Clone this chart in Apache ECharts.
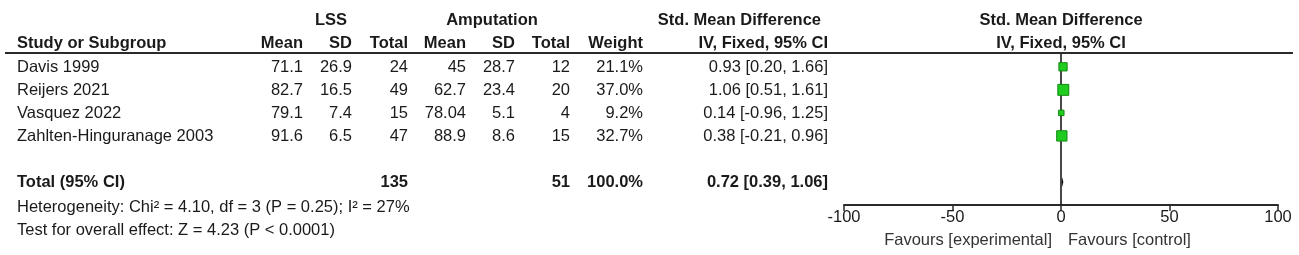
<!DOCTYPE html>
<html><head><meta charset="utf-8">
<script src="https://cdn.jsdelivr.net/npm/echarts@6/dist/echarts.min.js"></script>
<style>html,body{margin:0;padding:0;background:#fff}#c{width:1299px;height:255px}</style>
</head><body><div id="c"></div>
<script>
const studies = ['Davis 1999', 'Reijers 2021', 'Vasquez 2022', 'Zahlten-Hinguranage 2003'];
const lssMean = [71.1, 82.7, 79.1, 91.6];
const lssSD = [26.9, 16.5, 7.4, 6.5];
const lssN = [24, 49, 15, 47];
const ampMean = [45, 62.7, 78.04, 88.9];
const ampSD = [28.7, 23.4, 5.1, 8.6];
const ampN = [12, 20, 4, 15];
const weight = [21.1, 37.0, 9.2, 32.7];
const smd = [0.93, 1.06, 0.14, 0.38];
const ciLow = [0.20, 0.51, -0.96, -0.21];
const ciHigh = [1.66, 1.61, 1.25, 0.96];
const totalLss = 135, totalAmp = 51, totalWeight = 100.0;
const totalSmd = 0.72, totalLow = 0.39, totalHigh = 1.06;
const heterogeneity = 'Heterogeneity: Chi\u00b2 = 4.10, df = 3 (P = 0.25); I\u00b2 = 27%';
const overall = 'Test for overall effect: Z = 4.23 (P < 0.0001)';
const xTicks = [-100, -50, 0, 50, 100];
const nullEffect = 0;
const totalRow = 5;

const FONT = "'Liberation Sans', Arial, sans-serif";
const FS = 16.5;
const COL = '#1a1a1a';
const Y_MIN = -0.6, Y_MAX = 6;

const chart = echarts.init(document.getElementById('c'), null, {renderer: 'canvas'});
const rows = studies.map((s, i) => i);

chart.setOption({
  animation: false,
  backgroundColor: '#fff',
  grid: {left: 844, width: 434, top: 53, height: 152},
  xAxis: {
    type: 'value', min: xTicks[0], max: xTicks[xTicks.length - 1], interval: 50,
    splitLine: {show: false},
    axisLine: {show: true, onZero: false, lineStyle: {color: '#2a2a2a', width: 2}},
    axisTick: {show: true, length: 6, lineStyle: {color: '#2a2a2a', width: 1.5}},
    axisLabel: {color: COL, fontFamily: FONT, fontSize: FS, margin: 4}
  },
  yAxis: {type: 'value', inverse: true, min: Y_MIN, max: Y_MAX, show: false},
  series: [
    {
      type: 'line',
      data: [[nullEffect, Y_MIN], [nullEffect, Y_MAX]],
      symbol: 'none',
      lineStyle: {color: '#1a1a1a', width: 1.6},
      z: 1, silent: true
    },
    {
      type: 'custom',
      renderItem: function (params, api) {
        const a = api.coord([api.value(0), api.value(2)]);
        const b = api.coord([api.value(1), api.value(2)]);
        return {type: 'line', shape: {x1: a[0], y1: a[1], x2: b[0], y2: b[1]}, style: {stroke: '#1a1a1a', lineWidth: 1.5}};
      },
      data: rows.map(i => [ciLow[i], ciHigh[i], i]),
      z: 2
    },
    {
      type: 'custom',
      renderItem: function (params, api) {
        const l = api.coord([api.value(0), api.value(3)]);
        const c = api.coord([api.value(1), api.value(3)]);
        const r = api.coord([api.value(2), api.value(3)]);
        const h = 5;
        return {type: 'polygon', shape: {points: [[l[0], l[1]], [c[0], c[1] - h], [r[0], r[1]], [c[0], c[1] + h]]}, style: {fill: '#111'}};
      },
      data: [[totalLow, totalSmd, totalHigh, totalRow]],
      z: 3
    },
    {
      type: 'scatter',
      symbol: 'rect',
      data: rows.map(i => [smd[i], i, weight[i]]),
      symbolSize: v => 1.8 * Math.sqrt(v[2]),
      itemStyle: {color: '#1fcc1f', borderColor: '#118a11', borderWidth: 1, opacity: 1},
      z: 4
    }
  ]
});

function rowY(r) { return chart.convertToPixel({yAxisIndex: 0}, r); }
function txt(x, y, s, align, bold, color) {
  return {type: 'text', x: x, y: y, silent: true, z: 10,
    style: {text: s, x: 0, y: 0, fill: color || COL, font: (bold ? 'bold ' : '') + FS + 'px ' + FONT,
      align: align || 'left', verticalAlign: 'middle'}};
}
const ciText = (m, l, h) => m.toFixed(2) + ' [' + l.toFixed(2) + ', ' + h.toFixed(2) + ']';

const g = [];
const h1 = 20, h2 = 43;
g.push(txt(331, h1, 'LSS', 'center', true));
g.push(txt(492, h1, 'Amputation', 'center', true));
g.push(txt(821, h1, 'Std. Mean Difference', 'right', true));
g.push(txt(1061, h1, 'Std. Mean Difference', 'center', true));
g.push(txt(17, h2, 'Study or Subgroup', 'left', true));
g.push(txt(303, h2, 'Mean', 'right', true));
g.push(txt(352, h2, 'SD', 'right', true));
g.push(txt(408, h2, 'Total', 'right', true));
g.push(txt(466, h2, 'Mean', 'right', true));
g.push(txt(515, h2, 'SD', 'right', true));
g.push(txt(570, h2, 'Total', 'right', true));
g.push(txt(643, h2, 'Weight', 'right', true));
g.push(txt(828, h2, 'IV, Fixed, 95% CI', 'right', true));
g.push(txt(1061, h2, 'IV, Fixed, 95% CI', 'center', true));
g.push({type: 'line', silent: true, z: 9, shape: {x1: 5, y1: 53, x2: 1293, y2: 53}, style: {stroke: '#2a2a2a', lineWidth: 2}});

rows.forEach(i => {
  const y = rowY(i) + 1;
  g.push(txt(17, y, studies[i], 'left'));
  g.push(txt(303, y, String(lssMean[i]), 'right'));
  g.push(txt(352, y, String(lssSD[i]), 'right'));
  g.push(txt(408, y, String(lssN[i]), 'right'));
  g.push(txt(466, y, String(ampMean[i]), 'right'));
  g.push(txt(515, y, String(ampSD[i]), 'right'));
  g.push(txt(570, y, String(ampN[i]), 'right'));
  g.push(txt(643, y, weight[i].toFixed(1) + '%', 'right'));
  g.push(txt(828, y, ciText(smd[i], ciLow[i], ciHigh[i]), 'right'));
});
const ty = rowY(totalRow);
g.push(txt(17, ty, 'Total (95% CI)', 'left', true));
g.push(txt(408, ty, String(totalLss), 'right', true));
g.push(txt(570, ty, String(totalAmp), 'right', true));
g.push(txt(643, ty, totalWeight.toFixed(1) + '%', 'right', true));
g.push(txt(828, ty, ciText(totalSmd, totalLow, totalHigh), 'right', true));
g.push(txt(17, 207, heterogeneity, 'left'));
g.push(txt(17, 230, overall, 'left'));
g.push(txt(1052, 240, 'Favours [experimental]', 'right', false, '#333'));
g.push(txt(1068, 240, 'Favours [control]', 'left', false, '#333'));

chart.setOption({graphic: g});
</script></body></html>
